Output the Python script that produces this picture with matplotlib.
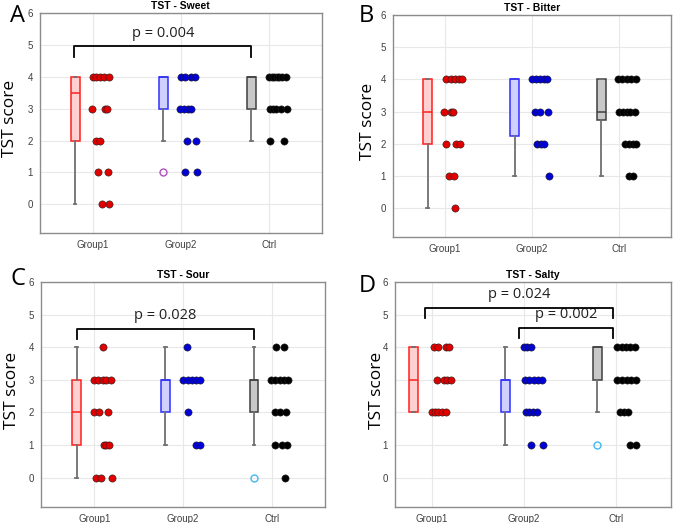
import numpy as np
import matplotlib
matplotlib.use("Agg")
import matplotlib.pyplot as plt

plt.rcParams["font.family"] = ["Liberation Sans", "DejaVu Sans"]

groups = ["Group1", "Group2", "Ctrl"]
titles = ["TST - Sweet", "TST - Bitter", "TST - Sour", "TST - Salty"]
letters = ["A", "B", "C", "D"]

# box stats per group: q1, median, q3, whisker low, whisker high
sweet_box = [(2, 3.5, 4, 0, 4), (3, 4, 4, 2, 4), (3, 4, 4, 2, 4)]
bitter_box = [(2, 3, 4, 0, 4), (2.25, 4, 4, 1, 4), (2.75, 3, 4, 1, 4)]
sour_box = [(1, 2, 3, 0, 4), (2, 3, 3, 1, 4), (2, 3, 3, 1, 4)]
salty_box = [(2, 3, 4, 2, 4), (2, 3, 3, 1, 4), (3, 4, 4, 2, 4)]

sweet_out = [[], [1], []]
bitter_out = [[], [], []]
sour_out = [[], [], [0]]
salty_out = [[], [], [1]]

# individual scores and horizontal jitter
sweet_scores = [
    [4, 4, 4, 4, 4, 3, 3, 3, 2, 2, 1, 1, 0, 0],
    [4, 4, 4, 4, 3, 3, 3, 3, 2, 2, 1, 1],
    [4, 4, 4, 4, 4, 4, 4, 3, 3, 3, 3, 3, 2, 2],
]
sweet_jitter = [
    [0.0, 0.04, 0.08, 0.13, 0.18, -0.01, 0.14, 0.165, 0.04, 0.085, 0.06, 0.17, 0.11, 0.19],
    [0.0, 0.05, 0.11, 0.165, -0.015, 0.035, 0.08, 0.12, 0.065, 0.17, 0.05, 0.18],
    [0.0, 0.03, 0.06, 0.09, 0.12, 0.15, 0.19, 0.01, 0.05, 0.085, 0.14, 0.2, 0.01, 0.17],
]
bitter_scores = [
    [4, 4, 4, 4, 4, 3, 3, 3, 2, 2, 2, 1, 1, 0],
    [4, 4, 4, 4, 4, 3, 3, 3, 2, 2, 2, 1],
    [4, 4, 4, 4, 4, 3, 3, 3, 3, 3, 2, 2, 2, 2, 1, 1],
]
bitter_jitter = [
    [0.015, 0.065, 0.115, 0.16, 0.2, -0.01, 0.065, 0.09, 0.01, 0.13, 0.17, 0.045, 0.1, 0.11],
    [0.0, 0.05, 0.095, 0.135, 0.17, 0.03, 0.09, 0.19, 0.06, 0.11, 0.14, 0.2],
    [-0.01, 0.04, 0.09, 0.145, 0.2, 0.0, 0.045, 0.095, 0.135, 0.185, 0.07, 0.115, 0.16, 0.2, 0.115, 0.16],
]
sour_scores = [
    [4, 3, 3, 3, 3, 3, 2, 2, 2, 1, 1, 1, 0, 0, 0],
    [4, 3, 3, 3, 3, 3, 2, 1, 1],
    [4, 4, 3, 3, 3, 3, 3, 2, 2, 2, 1, 1, 1, 0],
]
sour_jitter = [
    [0.1, 0.0, 0.045, 0.095, 0.13, 0.19, 0.0, 0.055, 0.155, 0.11, 0.135, 0.17, 0.02, 0.08, 0.195],
    [0.04, 0.0, 0.055, 0.1, 0.15, 0.19, 0.055, 0.15, 0.19],
    [0.05, 0.14, -0.01, 0.04, 0.09, 0.135, 0.18, 0.04, 0.095, 0.16, 0.04, 0.12, 0.17, 0.15],
]
salty_scores = [
    [4, 4, 4, 4, 3, 3, 3, 3, 2, 2, 2, 2, 2],
    [4, 4, 4, 3, 3, 3, 3, 3, 2, 2, 2, 2, 1, 1],
    [4, 4, 4, 4, 4, 3, 3, 3, 3, 3, 2, 2, 2, 1, 1],
]
salty_jitter = [
    [0.02, 0.07, 0.16, 0.19, 0.055, 0.135, 0.17, 0.205, 0.0, 0.035, 0.07, 0.11, 0.155],
    [0.0, 0.035, 0.08, 0.01, 0.06, 0.115, 0.16, 0.2, 0.02, 0.06, 0.105, 0.14, 0.075, 0.205],
    [0.015, 0.065, 0.11, 0.155, 0.21, 0.015, 0.07, 0.125, 0.17, 0.22, 0.045, 0.09, 0.135, 0.155, 0.22],
]

boxes = [sweet_box, bitter_box, sour_box, salty_box]
outs = [sweet_out, bitter_out, sour_out, salty_out]
scores = [sweet_scores, bitter_scores, sour_scores, salty_scores]
jitters = [sweet_jitter, bitter_jitter, sour_jitter, salty_jitter]

# p-value brackets: (x1, x2, bar y, text)
brackets = [
    [(0.79, 2.8, 4.95, "p = 0.004")],
    [],
    [(0.8, 2.8, 4.57, "p = 0.028")],
    [(0.93, 2.97, 5.22, "p = 0.024"), (1.95, 2.97, 4.6, "p = 0.002")],
]

edge_cols = ["#ff2020", "#3030ff", "#404040"]
face_cols = ["#ffd0d0", "#d0d0ff", "#c8c8c8"]
dot_cols = ["#e00000", "#0000d8", "#000000"]
flier_cols = ["#ff2020", "#b050c0", "#40b8f0"]

rects = [
    [0.059, 0.5545, 0.417, 0.4207],
    [0.5814, 0.5468, 0.411, 0.4245],
    [0.0607, 0.0306, 0.420, 0.430],
    [0.5843, 0.0306, 0.408, 0.430],
]
xlims = [(0.4, 3.6), (0.4, 3.6), (0.4, 3.6), (0.6, 3.6)]
ylab_x = [-0.076, -0.061, -0.074, -0.038]
letter_pos = [(18, 16), (366, 16), (18, 279), (367, 286)]

fig = plt.figure(figsize=(6.76, 5.23), dpi=100)

for k in range(4):
    ax = fig.add_axes(rects[k])
    xpos = np.arange(1, 4)

    stats = []
    for g in range(3):
        q1, med, q3, lo, hi = boxes[k][g]
        stats.append(dict(q1=q1, med=med, q3=q3, whislo=lo, whishi=hi,
                          fliers=np.array(outs[k][g], dtype=float)))
    bp = ax.bxp(stats, positions=xpos - 0.2, widths=0.1, patch_artist=True,
                capwidths=0.03, manage_ticks=False, zorder=3,
                whiskerprops=dict(color="#707070", lw=1.3),
                capprops=dict(color="#707070", lw=1.3))
    for g in range(3):
        bp["boxes"][g].set(facecolor=face_cols[g], edgecolor=edge_cols[g], lw=1.1)
        bp["medians"][g].set(color=edge_cols[g], lw=1.1)
        bp["fliers"][g].set(marker="o", markerfacecolor="none",
                            markeredgecolor=flier_cols[g], markersize=5, mew=1.0)

    for g in range(3):
        xs = xpos[g] + np.array(jitters[k][g])
        ax.plot(xs, scores[k][g], "o", color=dot_cols[g], mec="#202020", mew=0.4,
                ms=5.2, ls="none", zorder=4)

    for x1, x2, yb, txt in brackets[k]:
        ax.plot([x1, x1, x2, x2], [yb - 0.33, yb, yb, yb - 0.33], color="black",
                lw=1.3, zorder=5)
        ax.text((x1 + x2) / 2, yb + 0.18, txt, ha="center", va="bottom",
                fontsize=10.5, family=["Open Sans", "DejaVu Sans"], color="#202020")

    ax.set_xlim(*xlims[k])
    ax.set_ylim(-0.9, 6)
    ax.set_xticks(xpos)
    ax.set_xticklabels(groups)
    ax.set_yticks(range(7))
    if k == 3:
        ax.set_yticklabels(["0", "1", "", "", "4", "5", "6"])
    ax.tick_params(labelsize=7, colors="#404040", length=0, pad=5)
    ax.grid(True, color="#e8e8e8", lw=0.8)
    ax.set_axisbelow(True)
    for s in ax.spines.values():
        s.set_color("#8c8c8c")
        s.set_linewidth(1.0)
    ax.set_title(titles[k], fontsize=7.5, fontweight="bold", pad=3)
    ax.set_ylabel("TST score", fontsize=12.5, family=["Open Sans", "DejaVu Sans"])
    ax.yaxis.set_label_coords(ylab_x[k], 0.52)

    lx, ly = letter_pos[k]
    fig.text(lx / 676, 1 - ly / 523, letters[k], fontsize=17, ha="center", va="center",
             family=["Open Sans", "DejaVu Sans"])

fig.savefig("out.png", dpi=100)
